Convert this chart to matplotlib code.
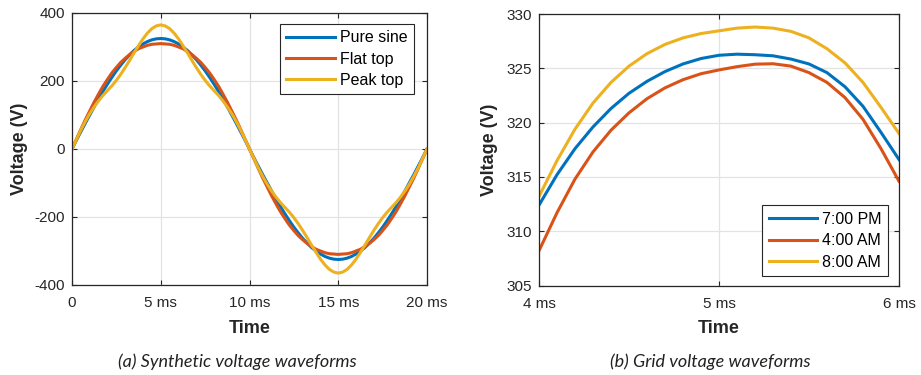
import numpy as np
import matplotlib
matplotlib.use("Agg")
import matplotlib.pyplot as plt

# --- data (a): synthetic waveforms, sampled every 0.25 ms ---
t_syn = np.arange(0, 20.001, 0.25)
pure_sine = [0, 26, 51, 76, 100, 124, 148, 170, 191, 211, 230, 247, 263, 277, 290, 300, 309, 316, 321, 324, 325,
             324, 321, 316, 309, 300, 290, 277, 263, 247, 230, 211, 191, 170, 148, 124, 100, 76, 51, 26, 0,
             -26, -51, -76, -100, -124, -148, -170, -191, -211, -230, -247, -263, -277, -290, -300, -309, -316, -321, -324, -325,
             -324, -321, -316, -309, -300, -290, -277, -263, -247, -230, -211, -191, -170, -148, -124, -100, -76, -51, -26, 0]
flat_top = [0, 29, 58, 86, 112, 138, 162, 185, 205, 224, 240, 255, 267, 278, 287, 295, 300, 305, 308, 309, 310,
            309, 308, 305, 300, 295, 287, 278, 267, 255, 240, 224, 205, 185, 162, 138, 112, 86, 58, 29, 0,
            -29, -58, -86, -112, -138, -162, -185, -205, -224, -240, -255, -267, -278, -287, -295, -300, -305, -308, -309, -310,
            -309, -308, -305, -300, -295, -287, -278, -267, -255, -240, -224, -205, -185, -162, -138, -112, -86, -58, -29, 0]
peak_top = [0, 28, 56, 81, 104, 124, 142, 158, 172, 186, 202, 220, 240, 261, 283, 304, 324, 341, 354, 362, 365,
            362, 354, 341, 324, 304, 283, 261, 240, 220, 202, 186, 172, 158, 142, 124, 104, 81, 56, 28, 0,
            -28, -56, -81, -104, -124, -142, -158, -172, -186, -202, -220, -240, -261, -283, -304, -324, -341, -354, -362, -365,
            -362, -354, -341, -324, -304, -283, -261, -240, -220, -202, -186, -172, -158, -142, -124, -104, -81, -56, -28, 0]
syn_labels = ["Pure sine", "Flat top", "Peak top"]

# --- data (b): grid waveforms around the peak, every 0.1 ms ---
t_grid = np.arange(4.0, 6.001, 0.1)
pm_7 = [312.4, 315.2, 317.6, 319.6, 321.3, 322.7, 323.8, 324.7, 325.4, 325.9, 326.2,
        326.3, 326.25, 326.15, 325.85, 325.4, 324.6, 323.3, 321.5, 319.1, 316.6]
am_4 = [308.2, 311.7, 314.8, 317.3, 319.3, 320.9, 322.2, 323.2, 323.95, 324.5, 324.85,
        325.15, 325.38, 325.42, 325.2, 324.6, 323.7, 322.3, 320.3, 317.6, 314.6]
am_8 = [313.2, 316.5, 319.4, 321.8, 323.7, 325.2, 326.35, 327.2, 327.8, 328.2, 328.45,
        328.7, 328.8, 328.7, 328.4, 327.8, 326.8, 325.5, 323.7, 321.4, 319.0]
grid_labels = ["7:00 PM", "4:00 AM", "8:00 AM"]

colors = ["#0072BD", "#D95319", "#EDB120"]

plt.rcParams["font.family"] = ["Liberation Sans", "DejaVu Sans"]
plt.rcParams["axes.unicode_minus"] = False

fig = plt.figure(figsize=(9.21, 3.75), dpi=100)
ax1 = fig.add_axes([72 / 921, 1 - 285 / 375, 355 / 921, 272 / 375])
ax2 = fig.add_axes([539 / 921, 1 - 285.5 / 375, 360 / 921, 271.5 / 375])


def style(ax):
    ax.grid(True, color="#e3e3e3", linewidth=0.9)
    ax.set_axisbelow(True)
    ax.tick_params(direction="in", top=True, right=True, length=3.5,
                   width=0.8, color="#262626", labelsize=11, pad=5,
                   labelcolor="#262626")
    ax.tick_params(axis="x", pad=8)
    for s in ax.spines.values():
        s.set_color("#262626")
        s.set_linewidth(0.9)
    ax.set_xlabel("Time", fontsize=13, fontweight="bold", color="#262626", labelpad=7)
    ax.set_ylabel("Voltage (V)", fontsize=13, fontweight="bold", color="#262626")


def legend(ax, loc, anchor):
    leg = ax.legend(loc=loc, fontsize=11.5, handlelength=3.05,
                    handletextpad=0.3, borderpad=0.4, labelspacing=0.4,
                    fancybox=False, framealpha=1, edgecolor="#262626",
                    bbox_to_anchor=anchor, borderaxespad=0)
    leg.get_frame().set_linewidth(0.8)


for y, c, lab in zip([pure_sine, flat_top, peak_top], colors, syn_labels):
    ax1.plot(t_syn, y, color=c, lw=2.2, label=lab)
ax1.set_xlim(0, 20)
ax1.set_ylim(-400, 400)
ax1.set_xticks([0, 5, 10, 15, 20])
ax1.set_xticklabels(["0", "5 ms", "10 ms", "15 ms", "20 ms"])
ax1.set_yticks([-400, -200, 0, 200, 400])
style(ax1)
ax1.yaxis.labelpad = 5
legend(ax1, "upper right", (0.963, 0.96))

for y, c, lab in zip([pm_7, am_4, am_8], colors, grid_labels):
    ax2.plot(t_grid, y, color=c, lw=2.2, label=lab)
ax2.set_xlim(4, 6)
ax2.set_ylim(305, 330)
ax2.set_xticks([4, 5, 6])
ax2.set_xticklabels(["4 ms", "5 ms", "6 ms"])
ax2.set_yticks([305, 310, 315, 320, 325, 330])
style(ax2)
ax2.yaxis.labelpad = 6
legend(ax2, "lower right", (0.97, 0.035))

fig.text(237 / 921, 1 - 362 / 375, "(a) Synthetic voltage waveforms",
         family=["Lato", "DejaVu Sans"], style="italic", fontsize=13,
         ha="center", va="center", color="#222222")
fig.text(710 / 921, 1 - 362 / 375, "(b) Grid voltage waveforms",
         family=["Lato", "DejaVu Sans"], style="italic", fontsize=13,
         ha="center", va="center", color="#222222")

fig.savefig("out.png", dpi=100)
